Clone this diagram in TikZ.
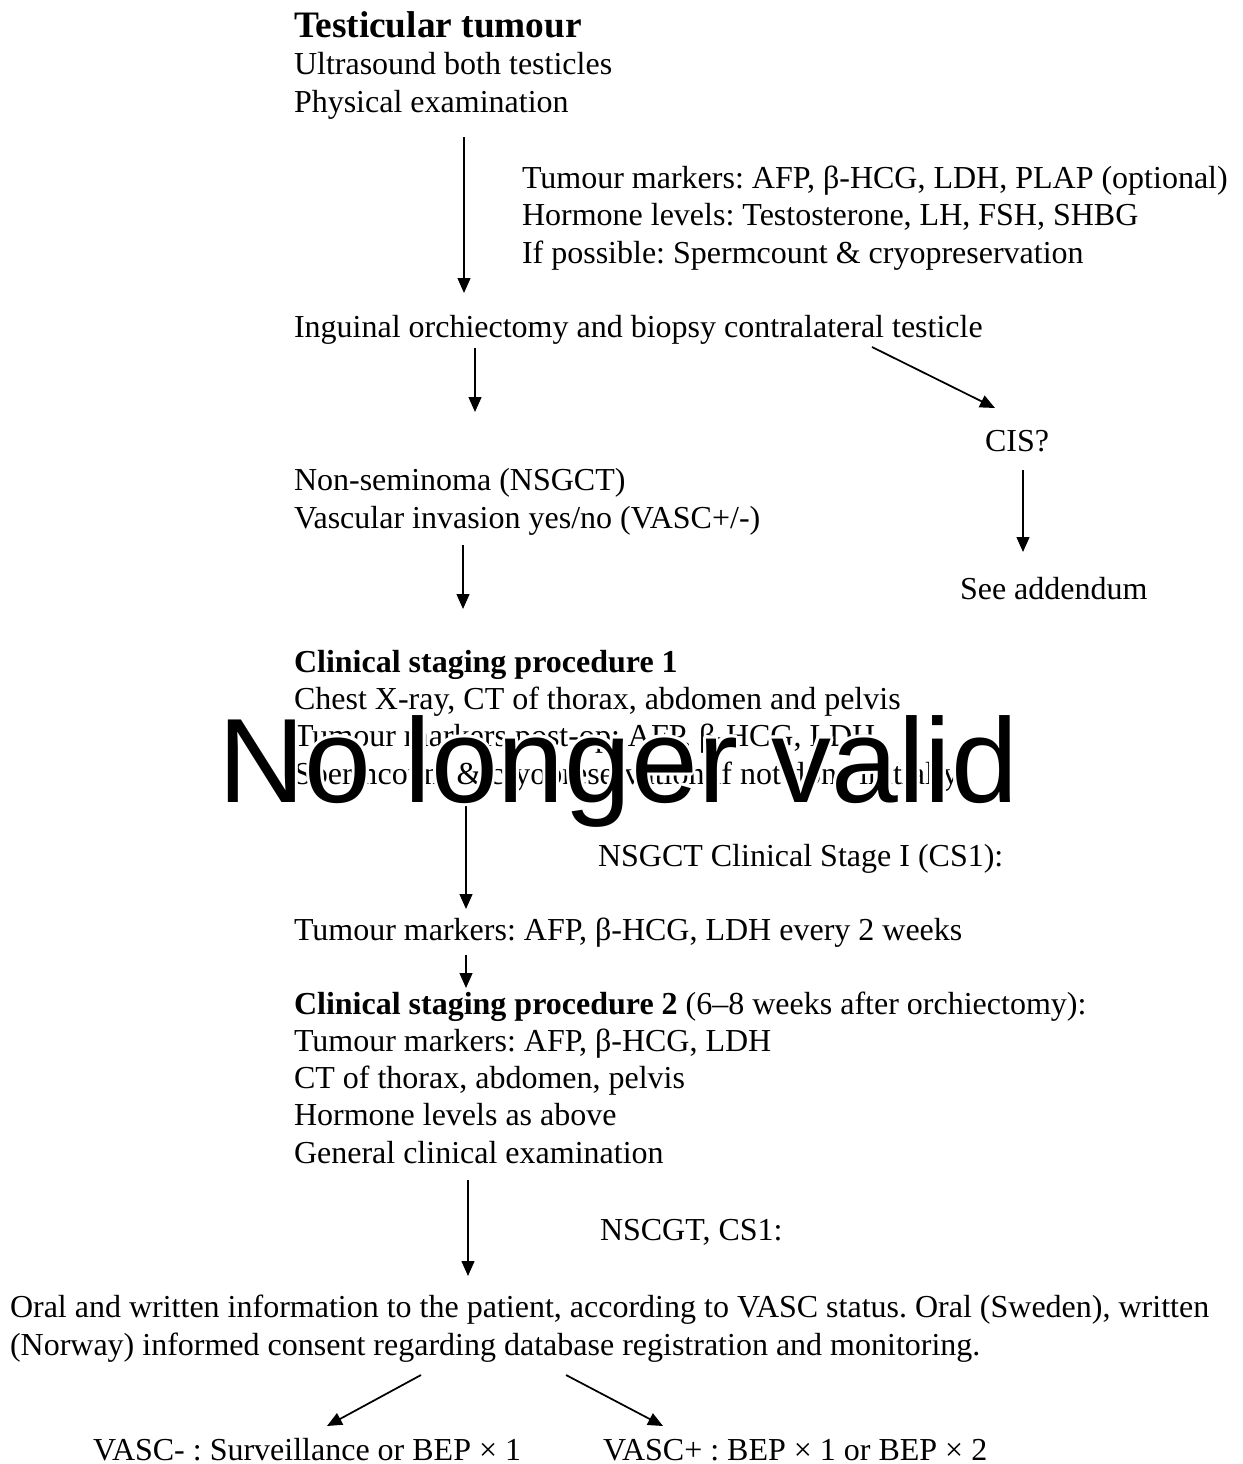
\documentclass[tikz,border=0pt]{standalone}
\usepackage{fontspec}
\setmainfont{Liberation Serif}
\newfontfamily\stampfont{Liberation Sans}
\usetikzlibrary{arrows.meta}
\frenchspacing
\tikzset{ %
  ,>={Triangle[length=5.6pt,width=4.8pt]}
  ,every node/.style={inner sep=0, outer sep=0}
  ,txt/.style={anchor=base west, align=left, font=\fontsize{12}{13.9}\selectfont}
  ,title/.style={anchor=base west, font=\fontsize{14}{16}\selectfont\bfseries}
  ,flow/.style={->, line width=0.65pt}
  ,stamp/.style={anchor=base west, font=\stampfont\fontsize{45}{50}\selectfont}
}

\begin{document}
\begin{tikzpicture}[x=0.375pt, y=-0.375pt]
  \useasboundingbox (0,0) rectangle (1243,1464);
  % blocks sit on the baseline of their last line
  \node[title] (tumour) at (294,37) {Testicular tumour};
  \node[txt] (exam) at (294,112) {Ultrasound both testicles\\Physical examination};
  \node[txt] (markers) at (522,263) {Tumour markers: AFP, β-HCG, LDH, PLAP (optional)\\Hormone levels: Testosterone, LH, FSH, SHBG\\If possible: Spermcount \& cryopreservation};
  \node[txt] (orchi) at (294,337) {Inguinal orchiectomy and biopsy contralateral testicle};
  \node[txt] (cis) at (985,451) {CIS?};
  \node[txt] (addendum) at (960,599) {See addendum};
  \node[txt] (nsgct) at (294,528) {Non-seminoma (NSGCT)\\Vascular invasion yes/no (VASC+/-)};
  \node[txt] (staging1) at (294,784) {\textbf{Clinical staging procedure 1}\\Chest X-ray, CT of thorax, abdomen and pelvis\\Tumour markers post-op: AFP, β-HCG, LDH\\Spermcount \& cryopreservation if not done initially};
  \node[txt] (stage1) at (598,866) {NSGCT Clinical Stage I (CS1):};
  \node[txt] (biweekly) at (294,940) {Tumour markers: AFP, β-HCG, LDH every 2 weeks};
  \node[txt] (staging2) at (294,1163) {\textbf{Clinical staging procedure 2} (6–8 weeks after orchiectomy):\\Tumour markers: AFP, β-HCG, LDH\\CT of thorax, abdomen, pelvis\\Hormone levels as above\\General clinical examination};
  \node[txt] (stage1b) at (600,1240) {NSCGT, CS1:};
  \node[txt] (consent) at (10,1355) {Oral and written information to the patient, according to VASC status. Oral (Sweden), written\\(Norway) informed consent regarding database registration and monitoring.};
  \node[txt] (vascneg) at (93,1460) {VASC- : Surveillance or BEP × 1};
  \node[txt] (vascpos) at (603,1460) {VASC+ : BEP × 1 or BEP × 2};
  % arrow ends
  \coordinate (a1) at (464,137); \coordinate (b1) at (464,293);
  \coordinate (a2) at (475,348); \coordinate (b2) at (475,412);
  \coordinate (a3) at (872,347); \coordinate (b3) at (995,408);
  \coordinate (a4) at (1023,470); \coordinate (b4) at (1023,552);
  \coordinate (a5) at (463,545); \coordinate (b5) at (463,609);
  \coordinate (a6) at (466,795); \coordinate (b6) at (466,909);
  \coordinate (a7) at (466,955); \coordinate (b7) at (466,988);
  \coordinate (a8) at (468,1180); \coordinate (b8) at (468,1276);
  \coordinate (a9) at (421,1375); \coordinate (b9) at (327,1426);
  \coordinate (a10) at (566,1375); \coordinate (b10) at (663,1426);
  \foreach \s/\t in {a1/b1,a2/b2,a3/b3,a4/b4,a5/b5,a6/b6,a7/b7,a8/b8,a9/b9,a10/b10}
    \draw[flow] (\s) -- (\t);
  % overprint
  \foreach \a in {0,30,...,330}
    \node[stamp, text=white] (halo\a) at ([shift={(\a:3)}]218,802) {No longer valid};
  \node[stamp] (stale) at (218,802) {No longer valid};
\end{tikzpicture}
\end{document}
